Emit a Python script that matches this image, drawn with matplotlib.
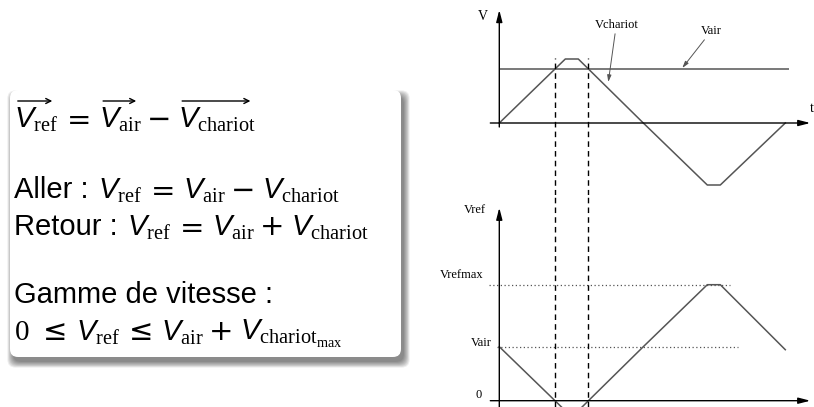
import matplotlib
matplotlib.use('Agg')
import matplotlib.pyplot as plt
from matplotlib.patches import FancyBboxPatch, FancyArrowPatch
from matplotlib.transforms import IdentityTransform

# data (time in arbitrary units, speeds in arbitrary units)
t_pts = [0, 6.6, 7.9, 14.4, 20.8, 22.1, 28.6]
v_chariot = [0, 6.4, 6.4, 0, -6.2, -6.2, 0]
v_ref = [5.4, -1.0, -1.0, 5.4, 11.6, 11.6, 5.1]
v_air = 5.4
v_refmax = 11.6
t_cross = [5.6, 8.9]   # instants where Vchariot = Vair

# fonts: beamer-like (sans text, sans italic V, serif subscripts, wide operators)
plt.rcParams['font.family'] = 'Liberation Sans'
plt.rcParams['mathtext.fontset'] = 'custom'
plt.rcParams['mathtext.rm'] = 'Liberation Serif'
plt.rcParams['mathtext.it'] = 'Liberation Sans:italic'
plt.rcParams['mathtext.sf'] = 'DejaVu Sans'

W, H = 814, 407
fig = plt.figure(figsize=(W / 100, H / 100), dpi=100)
r = fig.canvas.get_renderer()

# text block with a soft drop shadow
for i in range(8):
    sh = FancyBboxPatch((0.13, 0.45), 3.91, 2.66,
                        boxstyle='round,pad=%.3f,rounding_size=0.08' % (0.008 * i),
                        transform=fig.dpi_scale_trans, fc='black', ec='none',
                        alpha=0.07, zorder=1)
    fig.add_artist(sh)
box = FancyBboxPatch((0.10, 0.50), 3.91, 2.67, boxstyle='round,pad=0,rounding_size=0.08',
                     transform=fig.dpi_scale_trans, fc='white', ec='none', zorder=2)
fig.add_artist(box)

fs = 21
VREF = r'$V_{\mathrm{ref}}$'
VAIR = r'$V_{\mathrm{air}}$'
VCH = r'$V_{\mathrm{chariot}}$'
VCHMAX = r'$V_{\mathrm{chariot}_{\mathrm{max}}}$'
EQ, MINUS, PLUS, LEQ = r'$\mathsf{=}$', r'$\mathsf{-}$', r'$\mathsf{+}$', r'$\mathsf{\leq}$'


def write_line(y, pieces, vec=False):
    # place the pieces left to right on one baseline (y in px from the top)
    x = 14
    for s in pieces:
        t = fig.text(x / W, (H - y) / H, s, fontsize=fs, va='baseline', zorder=3)
        bb = t.get_window_extent(r)
        if vec and s.startswith('$V'):
            ar = FancyArrowPatch((bb.x0 + 1, bb.y1 + 4), (bb.x1 - 3, bb.y1 + 4),
                                 transform=IdentityTransform(), arrowstyle='->',
                                 mutation_scale=9, lw=1.0, color='black', zorder=3)
            fig.add_artist(ar)
        x = bb.x1 + (4 if s.startswith('$V') else 9)


write_line(127, [VREF, EQ, VAIR, MINUS, VCH], vec=True)
write_line(198, ['Aller :', VREF, EQ, VAIR, MINUS, VCH])
write_line(235, ['Retour :', VREF, EQ, VAIR, PLUS, VCH])
write_line(303, ['Gamme de vitesse :'])
write_line(340, ['$0$', LEQ, VREF, LEQ, VAIR, PLUS, VCHMAX])

# diagrams: 10 px per unit on both axes
x0 = 499.3
curve = '#555555'
serif = 'Liberation Serif'
arrow_kw = dict(arrowstyle='-|>,head_length=0.7,head_width=0.18', lw=1.0, color='black',
                mutation_scale=10, shrinkA=0, shrinkB=0)
note_kw = dict(arrowstyle='-|>,head_length=0.5,head_width=0.15', lw=0.7,
               color=curve, mutation_scale=8, shrinkA=0, shrinkB=0)

ax1 = fig.add_axes([430 / W, (H - 195) / H, (W - 430) / W, 195 / H])
ax1.set_xlim((430 - x0) / 10, (W - x0) / 10)
ax1.set_ylim(-7.2, 12.3)
ax1.axis('off')
ax1.plot(t_pts, v_chariot, color=curve, lw=1.1)
ax1.hlines(v_air, 0, 29.0, color=curve, lw=1.1)
ax1.annotate('', xy=(31.1, 0), xytext=(-0.9, 0), arrowprops=arrow_kw)
ax1.annotate('', xy=(0, 11.3), xytext=(0, -0.4), arrowprops=arrow_kw)
ax1.vlines(t_cross, -7.2, 6.5, colors='black', linestyles=(0, (4, 3)), lw=1.0)
ax1.text(-1.6, 10.6, 'V', family=serif, fontsize=10, ha='center', va='center')
ax1.text(31.2, 1.5, 't', family=serif, fontsize=10, ha='center', va='center')
ax1.annotate('Vchariot', xy=(10.9, 4.1), xytext=(11.7, 9.2), family=serif, fontsize=9,
             ha='center', va='bottom', arrowprops=note_kw)
ax1.annotate('Vair', xy=(18.3, 5.5), xytext=(21.2, 8.6), family=serif, fontsize=9,
             ha='center', va='bottom', arrowprops=note_kw)

ax2 = fig.add_axes([430 / W, 0, (W - 430) / W, 212 / H])
ax2.set_xlim((430 - x0) / 10, (W - x0) / 10)
ax2.set_ylim(-0.63, 20.57)
ax2.axis('off')
ax2.plot(t_pts, v_ref, color=curve, lw=1.1)
ax2.hlines(v_refmax, -1.0, 23.1, color=curve, lw=0.9, linestyles=(0, (1, 2)))
ax2.hlines(v_air, -0.2, 23.9, color=curve, lw=0.9, linestyles=(0, (1, 2)))
ax2.annotate('', xy=(31.1, 0), xytext=(-0.9, 0), arrowprops=arrow_kw)
ax2.annotate('', xy=(0, 19.3), xytext=(0, -0.7), arrowprops=arrow_kw)
ax2.vlines(t_cross, -0.63, 20.57, colors='black', linestyles=(0, (4, 3)), lw=1.0)
ax2.text(-2.4, 19.1, 'Vref', family=serif, fontsize=9, ha='center', va='center')
ax2.text(-1.6, 12.6, 'Vrefmax', family=serif, fontsize=9, ha='right', va='center')
ax2.text(-0.8, 5.8, 'Vair', family=serif, fontsize=9, ha='right', va='center')
ax2.text(-2.1, 0.6, '0', family=serif, fontsize=9, ha='center', va='center')

fig.savefig('out.png', dpi=100)
